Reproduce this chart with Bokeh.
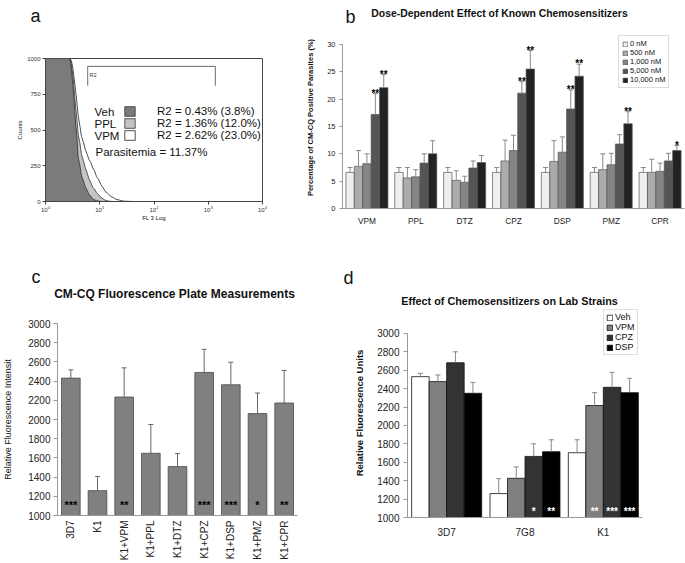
import math
from bokeh.plotting import figure
from bokeh.layouts import column, row
from bokeh.models import (ColumnDataSource, Label, Legend, LegendItem, FactorRange, Range1d)
from bokeh.transform import dodge
from bokeh.embed import file_html
from bokeh.resources import INLINE
from bokeh.core.properties import value

FONT = "Liberation Sans"

# ---------------- Panel a : FL3 histogram ----------------
fl3_channel = [1.0, 1.5, 2.0, 2.5, 2.8, 3.0, 3.2, 3.4, 3.6, 3.8, 4.0, 4.3, 4.6, 5.0, 5.4, 5.8,
               6.3, 6.8, 7.4, 8.0, 8.7, 9.5, 10.5, 11.5, 12.5, 14, 16, 18, 20, 23, 26, 30, 34, 40]
veh_counts = [1000, 1000, 1000, 1000, 1000, 930, 810, 690, 540, 450, 310, 255, 180, 145, 105, 80,
              52, 38, 18, 12, 6, 3, 1, 0, 0, 0, 0, 0, 0, 0, 0, 0, 0, 0]
ppl_counts = [1000, 1000, 1000, 1000, 1000, 960, 880, 770, 660, 570, 470, 410, 330, 285, 235, 205,
              160, 135, 100, 88, 62, 48, 28, 19, 9, 4, 1, 0, 0, 0, 0, 0, 0, 0]
vpm_counts = [1000, 1000, 1000, 1000, 1000, 985, 930, 850, 770, 690, 600, 530, 455, 415, 365, 335,
              295, 275, 235, 215, 175, 155, 118, 97, 72, 57, 36, 26, 15, 10, 4, 2, 1, 0]
a_x_ticks = [1, 10, 100, 1000, 10000]
a_y_ticks = [0, 250, 500, 750, 1000]
r2_gate_fl3 = [6.0, 1350.0]
r2_gate_counts = [810, 945]
a_names = ["Veh", "PPL", "VPM"]
a_stats = ["R2 = 0.43% (3.8%)", "R2 = 1.36% (12.0%)", "R2 = 2.62% (23.0%)"]
a_parasitemia = "Parasitemia = 11.37%"

# ---------------- Panel b : dose dependence ----------------
b_title = "Dose-Dependent Effect of Known Chemosensitizers"
b_drugs = ["VPM", "PPL", "DTZ", "CPZ", "DSP", "PMZ", "CPR"]
b_doses = ["0 nM", "500 nM", "1,000 nM", "5,000 nM", "10,000 nM"]
b_0nM = [6.6, 6.6, 6.6, 6.6, 6.6, 6.6, 6.6]
b_0nM_sd = [0.9, 0.9, 0.9, 0.9, 0.9, 0.9, 0.9]
b_500nM = [7.7, 5.6, 5.15, 8.7, 8.6, 7.1, 6.6]
b_500nM_sd = [2.9, 1.9, 1.75, 3.8, 3.8, 2.9, 2.4]
b_1000nM = [8.2, 5.8, 4.8, 10.6, 10.3, 8.0, 6.8]
b_1000nM_sd = [1.8, 1.3, 1.1, 2.8, 2.8, 2.1, 1.5]
b_5000nM = [17.2, 8.3, 7.4, 21.1, 18.2, 11.8, 8.7]
b_5000nM_sd = [3.8, 1.7, 1.3, 2.1, 3.5, 1.7, 1.4]
b_10000nM = [22.1, 10.0, 8.4, 25.5, 24.2, 15.5, 10.6]
b_10000nM_sd = [2.4, 2.4, 1.3, 3.4, 2.2, 2.2, 0.9]
b_5000nM_sig = ["**", "", "", "**", "**", "", ""]
b_10000nM_sig = ["**", "", "", "**", "**", "**", "*"]
b_y_ticks = [0, 5, 10, 15, 20, 25, 30]

# ---------------- Panel c : plate measurements ----------------
c_title = "CM-CQ Fluorescence Plate Measurements"
c_conditions = ["3D7", "K1", "K1+VPM", "K1+PPL", "K1+DTZ", "K1+CPZ", "K1+DSP", "K1+PMZ", "K1+CPR"]
c_mean = [2431, 1259, 2234, 1648, 1510, 2490, 2362, 2062, 2172]
c_sd = [86, 148, 304, 300, 135, 241, 235, 214, 338]
c_sig = ["***", "", "**", "", "", "***", "***", "*", "**"]
c_y_ticks = [1000, 1200, 1400, 1600, 1800, 2000, 2200, 2400, 2600, 2800, 3000]

# ---------------- Panel d : lab strains ----------------
d_title = "Effect of Chemosensitizers on Lab Strains"
d_strains = ["3D7", "7G8", "K1"]
d_treatments = ["Veh", "VPM", "CPZ", "DSP"]
d_veh = [2531, 1260, 1704]
d_veh_sd = [36, 162, 141]
d_vpm = [2477, 1426, 2217]
d_vpm_sd = [72, 123, 140]
d_cpz = [2682, 1664, 2415]
d_cpz_sd = [119, 137, 163]
d_dsp = [2350, 1715, 2357]
d_dsp_sd = [119, 130, 156]
d_veh_sig = ["", "", ""]
d_vpm_sig = ["", "", "**"]
d_cpz_sig = ["", "*", "***"]
d_dsp_sig = ["", "**", "***"]
d_y_ticks = [1000, 1200, 1400, 1600, 1800, 2000, 2200, 2400, 2600, 2800, 3000]


def style_axis(ax, size, color="#222", line_color="#999", tick_out=3, standoff=3):
    ax.major_label_text_font = FONT
    ax.major_label_text_font_size = size
    ax.major_label_text_color = color
    ax.axis_line_color = line_color
    ax.major_tick_line_color = line_color
    ax.major_tick_out = tick_out
    ax.major_tick_in = 0
    ax.minor_tick_line_color = None
    ax.major_label_standoff = standoff
    ax.axis_label_text_font = FONT
    ax.axis_label_text_font_style = "normal"
    ax.axis_label_text_color = "#111"


def add_text(p, x, y, text, size, style="normal", align="left", baseline="middle",
             angle=0.0, color="#111"):
    p.add_layout(Label(x=x, y=y, x_units="screen", y_units="screen", text=text,
                       text_font=FONT, text_font_size=size, text_font_style=style,
                       text_align=align, text_baseline=baseline, angle=angle,
                       text_color=color))


def make_fig(w, h, left, right, top, bottom, **kw):
    p = figure(width=w, height=h, output_backend="svg", toolbar_location=None,
               min_border_left=left, min_border_right=right, min_border_top=top,
               min_border_bottom=bottom, **kw)
    p.frame_align = False
    p.grid.visible = False
    p.outline_line_color = None
    p.background_fill_color = "white"
    p.border_fill_color = "white"
    return p


def make_header(w, h):
    p = make_fig(w, h, 0, 0, 0, 0, x_range=Range1d(0, 1), y_range=Range1d(0, 1))
    p.axis.visible = False
    return p


# ====================== header row 1 ======================
h1 = make_header(685, 26)
add_text(h1, 30, 11, "a", "18px", baseline="alphabetic")
add_text(h1, 345, 10, "b", "18px", baseline="alphabetic")
add_text(h1, 499, 13, b_title, "10.4px", style="bold", align="center")

# ====================== Panel a ======================
pa = make_fig(300, 242, 45, 38, 32, 67, x_axis_type="log",
              x_range=Range1d(1, 10000), y_range=Range1d(0, 1000))
pa.outline_line_color = "#444"
pa.xaxis.ticker = a_x_ticks
pa.yaxis.ticker = a_y_ticks
style_axis(pa.xaxis[0], "6px", color="#333", line_color="#444", tick_out=3, standoff=1)
style_axis(pa.yaxis[0], "6px", color="#333", line_color="#444", tick_out=3, standoff=2)
pa.xaxis.axis_label = "FL 3 Log"
pa.yaxis.axis_label = "Counts"
pa.xaxis.axis_label_text_font_size = "6px"
pa.yaxis.axis_label_text_font_size = "6px"
pa.xaxis.axis_label_standoff = 0
pa.yaxis.axis_label_standoff = 1


def closed(xs, ys):
    return [xs[0]] + list(xs) + [xs[-1]], [0] + list(ys) + [0]


xv, yv = closed(fl3_channel, vpm_counts)
r_vpm = pa.patch(xv, yv, fill_color="white", line_color="#222", line_width=0.8)
xp, yp = closed(fl3_channel, ppl_counts)
r_ppl = pa.patch(xp, yp, fill_color="#c4c4c4", line_color="#333", line_width=0.8)
xh, yh = closed(fl3_channel, veh_counts)
r_veh = pa.patch(xh, yh, fill_color="#7b7b7b", line_color="#333", line_width=0.8)

pa.line([r2_gate_fl3[0], r2_gate_fl3[0], r2_gate_fl3[1], r2_gate_fl3[1]],
        [r2_gate_counts[0], r2_gate_counts[1], r2_gate_counts[1], r2_gate_counts[0]],
        line_color="#444", line_width=0.8)
add_text(pa, 44, 127, "R2", "5.5px", color="#333")

legend_a = Legend(items=[LegendItem(label=a_stats[i], renderers=[r])
                         for i, r in enumerate([r_veh, r_ppl, r_vpm])],
                  location=(78, 60), orientation="vertical")
legend_a.border_line_color = None
legend_a.background_fill_alpha = 0
legend_a.padding = 0
legend_a.margin = 0
legend_a.spacing = 0
legend_a.glyph_width = 13
legend_a.glyph_height = 12
legend_a.label_height = 12
legend_a.label_standoff = 21
legend_a.label_text_font = FONT
legend_a.label_text_font_size = "11.5px"
legend_a.label_text_color = "#111"
pa.add_layout(legend_a)
for i, name in enumerate(a_names):
    add_text(pa, 49, 90 - 12 * i, name, "11.5px")
add_text(pa, 50, 50, a_parasitemia, "11.5px")

# ====================== Panel b ======================
pb = make_fig(385, 242, 42, 1, 0, 60, x_range=FactorRange(*b_drugs), y_range=Range1d(0, 33.29))
pb.yaxis.ticker = b_y_ticks
pb.yaxis.bounds = (0, 30)
style_axis(pb.yaxis[0], "7.5px", tick_out=3, standoff=4)
style_axis(pb.xaxis[0], "8.3px", tick_out=0, standoff=7)
pb.yaxis.axis_label = "Percentage of CM-CQ Positive Parasites (%)"
pb.yaxis.axis_label_text_font_size = "7.5px"
pb.yaxis.axis_label_text_font_style = "bold"
pb.yaxis.axis_label_standoff = 9

b_vals = [b_0nM, b_500nM, b_1000nM, b_5000nM, b_10000nM]
b_sds = [b_0nM_sd, b_500nM_sd, b_1000nM_sd, b_5000nM_sd, b_10000nM_sd]
b_sigs = [["", "", "", "", "", "", ""], ["", "", "", "", "", "", ""],
          ["", "", "", "", "", "", ""], b_5000nM_sig, b_10000nM_sig]
b_colors = ["#efefef", "#ababab", "#858585", "#555555", "#222222"]
b_width = 0.172
b_items = []
for i, dose in enumerate(b_doses):
    off = (i - 2) * b_width
    src = ColumnDataSource(dict(drug=b_drugs, val=b_vals[i],
                                top=[v + s for v, s in zip(b_vals[i], b_sds[i])],
                                sig=b_sigs[i]))
    xd = dodge("drug", off, range=pb.x_range)
    r = pb.vbar(x=xd, top="val", width=b_width, source=src, fill_color=b_colors[i],
                line_color="#555", line_width=0.7)
    pb.segment(x0=xd, y0="val", x1=xd, y1="top", source=src, line_color="#888", line_width=1)
    pb.scatter(x=xd, y="top", source=src, marker="dash", size=5, line_color="#888", line_width=1)
    pb.text(x=xd, y="top", text="sig", source=src, text_align="center", text_baseline="bottom",
            text_font=value(FONT), text_font_size="10px", text_font_style="bold",
            text_color="#000", y_offset=5)
    b_items.append(LegendItem(label=dose, renderers=[r]))

legend_b = Legend(items=b_items, location=(276, 120), orientation="vertical")
legend_b.border_line_color = "#bbb"
legend_b.border_line_width = 0.7
legend_b.background_fill_color = "white"
legend_b.padding = 3
legend_b.margin = 0
legend_b.spacing = 0
legend_b.glyph_width = 6
legend_b.glyph_height = 6
legend_b.label_height = 8
legend_b.label_standoff = 2
legend_b.label_text_font = FONT
legend_b.label_text_font_size = "7.5px"
legend_b.label_text_color = "#111"
pb.add_layout(legend_b)

# ====================== header row 2 ======================
h2 = make_header(685, 40)
add_text(h2, 31, 32, "c", "18px", baseline="alphabetic")
add_text(h2, 343, 31, "d", "18px", baseline="alphabetic")
add_text(h2, 174, 15, c_title, "12px", style="bold", align="center")
add_text(h2, 509, 8, d_title, "10.8px", style="bold", align="center")

# ====================== Panel c ======================
pc = make_fig(340, 255, 52, 43, 15, 46, x_range=FactorRange(*c_conditions),
              y_range=Range1d(1000, 3000))
pc.yaxis.ticker = c_y_ticks
style_axis(pc.yaxis[0], "10px", tick_out=4, standoff=3)
style_axis(pc.xaxis[0], "10px", tick_out=0, standoff=5)
pc.xaxis.major_label_orientation = math.pi / 2
pc.yaxis.axis_label = "Relative Fluorescence Intensit"
pc.yaxis.axis_label_text_font_size = "9px"
pc.yaxis.axis_label_standoff = 12
src_c = ColumnDataSource(dict(cond=c_conditions, mean=c_mean,
                              top=[m + s for m, s in zip(c_mean, c_sd)], sig=c_sig))
pc.vbar(x="cond", top="mean", bottom=1000, width=0.7, source=src_c, fill_color="#808080",
        line_color="#4a4a4a", line_width=0.8)
pc.segment(x0="cond", y0="mean", x1="cond", y1="top", source=src_c, line_color="#666", line_width=1)
pc.scatter(x="cond", y="top", source=src_c, marker="dash", size=5, line_color="#666", line_width=1)
pc.text(x="cond", y=1105, text="sig", source=src_c, text_align="center", text_baseline="middle",
        text_font=value(FONT), text_font_size="11px", text_font_style="bold", text_color="#000")

# ====================== Panel d ======================
pd_ = make_fig(345, 255, 67, 43, 0, 46, x_range=FactorRange(*d_strains),
               y_range=Range1d(1000, 3271.7))
pd_.yaxis.ticker = d_y_ticks
pd_.yaxis.bounds = (1000, 3000)
style_axis(pd_.yaxis[0], "10px", tick_out=4, standoff=4)
style_axis(pd_.xaxis[0], "10px", tick_out=0, standoff=9)
pd_.yaxis.axis_label = "Relative Fluorescence Units"
pd_.yaxis.axis_label_text_font_size = "9.5px"
pd_.yaxis.axis_label_text_font_style = "bold"
pd_.yaxis.axis_label_standoff = 9

d_vals = [d_veh, d_vpm, d_cpz, d_dsp]
d_sds = [d_veh_sd, d_vpm_sd, d_cpz_sd, d_dsp_sd]
d_sigs = [d_veh_sig, d_vpm_sig, d_cpz_sig, d_dsp_sig]
d_colors = ["#ffffff", "#808080", "#333333", "#000000"]
d_width = 0.2235
d_items = []
for i, t in enumerate(d_treatments):
    off = (i - 1.5) * d_width
    src = ColumnDataSource(dict(strain=d_strains, val=d_vals[i],
                                top=[v + s for v, s in zip(d_vals[i], d_sds[i])],
                                sig=d_sigs[i]))
    xd = dodge("strain", off, range=pd_.x_range)
    r = pd_.vbar(x=xd, top="val", bottom=1000, width=d_width, source=src,
                 fill_color=d_colors[i], line_color="#111", line_width=0.8)
    pd_.segment(x0=xd, y0="val", x1=xd, y1="top", source=src, line_color="#888", line_width=1)
    pd_.scatter(x=xd, y="top", source=src, marker="dash", size=5, line_color="#888", line_width=1)
    pd_.text(x=xd, y=1060, text="sig", source=src, text_align="center", text_baseline="middle",
             text_font=value(FONT), text_font_size="10px", text_font_style="bold",
             text_color="white")
    d_items.append(LegendItem(label=t, renderers=[r]))

legend_d = Legend(items=d_items, location=(196, 162), orientation="vertical")
legend_d.border_line_color = "#bbb"
legend_d.border_line_width = 0.7
legend_d.background_fill_color = "white"
legend_d.padding = 2
legend_d.margin = 0
legend_d.spacing = 0
legend_d.glyph_width = 7
legend_d.glyph_height = 7
legend_d.label_height = 8
legend_d.label_standoff = 2
legend_d.label_text_font = FONT
legend_d.label_text_font_size = "9px"
legend_d.label_text_color = "#111"
pd_.add_layout(legend_d)

layout = column(h1, row(pa, pb), h2, row(pc, pd_))
open("out.html", "w").write(file_html(layout, INLINE))
